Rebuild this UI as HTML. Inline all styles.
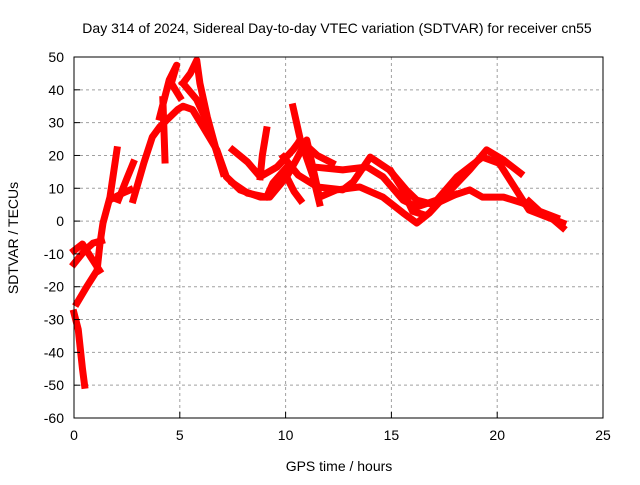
<!DOCTYPE html>
<html><head><meta charset="utf-8"><style>
body{margin:0;background:#fff;}
svg text{font-family:"Liberation Sans",sans-serif;font-size:14px;fill:#000;}
</style></head><body>
<svg id="chart" width="640" height="480" viewBox="0 0 640 480" xmlns="http://www.w3.org/2000/svg">
<rect width="640" height="480" fill="#fff"/>
<text x="337" y="33" text-anchor="middle">Day 314 of 2024, Sidereal Day-to-day VTEC variation (SDTVAR) for receiver cn55</text>
<text x="339" y="471" text-anchor="middle">GPS time / hours</text>
<text transform="translate(18,238) rotate(-90)" text-anchor="middle">SDTVAR / TECUs</text>
<g id="grid"></g><g id="series"></g><g id="axes"></g>
</svg>
<script>
const xTicks=[0,5,10,15,20,25];
const yTicks=[50,40,30,20,10,0,-10,-20,-30,-40,-50,-60];
const track1=[[0,-28],[0.2,-33],[0.4,-45],[0.5,-50]];
const track2=[[0.14,-25],[0.6,-20],[1.09,-15],[1.23,-6.7],[1.37,-0.6],[1.7,7.3],[2.03,21.7]];
const track3=[[0,-13],[0.5,-9],[0.9,-6.7],[1.3,-6]];
const track4=[[0,-9],[0.4,-7],[0.9,-12],[1.2,-15]];
const track5=[[1.85,7],[2.3,8.5],[2.65,9.5]];
const track6=[[2.1,6.5],[2.5,13],[2.8,17.7]];
const track7=[[2.8,6.5],[3.3,17.7],[3.7,25.6],[4.05,28.7],[4.9,34],[5.15,35],[5.6,34],[6.1,28.7],[6.75,21.7],[7.2,13.5],[7.85,9.5],[8.8,7.3],[9.25,7.3],[10.05,13.5],[10.5,18.6],[11.0,24.7],[11.6,7.3],[12.4,9.5],[13.5,10.4],[14.6,7.3],[15.55,2.5],[16.2,-0.6],[16.8,2.5],[17.8,9.5],[18.7,15.6],[19.5,21.7],[20.3,18.6],[21.1,14.6]];
const track8=[[4.05,31.7],[4.5,43],[4.85,47.5],[4.6,42],[5.0,37.8]];
const track9=[[5.15,42],[5.5,45],[5.8,49],[5.95,42],[6.3,31.7],[6.75,21],[7.05,14.6]];
const track10=[[4.2,37],[4.25,28],[4.3,18.6]];
const track11=[[5.15,42],[5.8,37],[6.3,30],[6.8,20]];
const track12=[[7.5,21.7],[8.2,18],[8.8,13.5],[9.6,16.5],[10.35,21.7],[10.7,24.7],[11.3,16.5],[12.7,15.6],[13.85,16.5],[14.6,13.5],[15.55,6.4],[16.2,4.3],[17.15,6.4],[18.1,13.5],[19.3,19.5],[20.1,17.6],[20.9,9.5],[21.5,3.4],[23.1,-0.6]];
const track13=[[9.9,19.5],[10.6,14],[11.5,10.4],[12.7,9.5],[13.2,12],[14.0,19.5],[14.9,15.6],[15.7,9.5],[16.2,6.4],[17.0,5],[18.0,8]];
const track14=[[18.0,8],[18.7,9.5],[19.3,7.3],[20.3,7.3],[21.2,5.5],[22.5,1.3],[23.1,-2]];
const track15=[[9.1,27.8],[8.9,20],[8.8,13.5]];
const track16=[[10.35,34.8],[10.7,24.7],[11.3,13.5],[11.6,5.5]];
const track17=[[10.05,13.5],[10.4,9],[10.7,6.4]];
const track18=[[7.5,11.6],[8.2,8.5],[9.1,7.3],[9.4,11.6],[10.0,16]];
const track19=[[10.7,24.7],[11.5,20],[12.2,17.7]];
const track20=[[15,15],[15.5,10],[16,3],[16.5,2]];
const track21=[[21.5,6],[22,3],[22.8,1]];
const tracks=[track1,track2,track3,track4,track5,track6,track7,track8,track9,track10,track11,track12,track13,track14,track15,track16,track17,track18,track19,track20,track21];
const X0=74,X1=603,Y0=57,Y1=418;
const sx=h=>X0+(h-0)/(25-0)*(X1-X0);
const sy=v=>Y0+(50-v)/(50-(-60))*(Y1-Y0);
const NS='http://www.w3.org/2000/svg';
const grid=document.getElementById('grid'),axes=document.getElementById('axes'),ser=document.getElementById('series');
function mk(tag,attrs,parent){const e=document.createElementNS(NS,tag);for(const k in attrs)e.setAttribute(k,attrs[k]);parent.appendChild(e);return e;}
xTicks.forEach(t=>{
 const x=sx(t);
 if(t>0&&t<25){const g=mk('line',{x1:x,x2:x,y1:Y0,y2:Y1,stroke:'#a0a0a0','stroke-dasharray':'3,3'},grid);
 
 }
 const tk=mk('line',{x1:x,x2:x,y1:Y1,y2:Y1-6,stroke:'#000'},axes);
 
 
 const tx=mk('text',{x:x,y:Y1+22,'text-anchor':'middle'},axes);tx.textContent=t;
 
 
});
yTicks.forEach(t=>{
 const y=sy(t);
 if(t<50&&t>-60){const g=mk('line',{x1:X0,x2:X1,y1:y,y2:y,stroke:'#a0a0a0','stroke-dasharray':'3,3'},grid);
 
 }
 const tk=mk('line',{x1:X0,x2:X0+6,y1:y,y2:y,stroke:'#000'},axes);
 
 
 const tx=mk('text',{x:X0-10,y:y+5,'text-anchor':'end'},axes);tx.textContent=t;
 
 
});
const fr=mk('rect',{x:X0,y:Y0,width:X1-X0,height:Y1-Y0,fill:'none',stroke:'#000'},axes);


tracks.forEach(tr=>{
 const p=mk('polyline',{points:tr.map(d=>sx(d[0])+','+sy(d[1])).join(' '),fill:'none',stroke:'#ff0000','stroke-width':7,'stroke-linejoin':'round','stroke-linecap':'square'},ser);
 
 
});
</script>
</body></html>
